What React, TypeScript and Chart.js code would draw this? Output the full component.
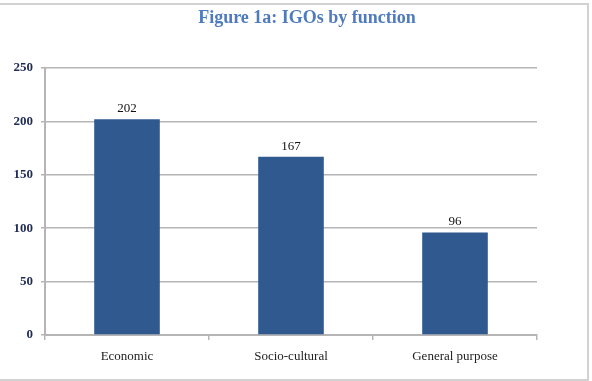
import React, { useEffect, useRef } from "react";
import { Chart, registerables } from "chart.js";

Chart.register(...registerables);

const categories = ["Economic", "Socio-cultural", "General purpose"];
const values = [202, 167, 96];
const yTicks = [0, 50, 100, 150, 200, 250];
const titleText = "Figure 1a: IGOs by function";

const valueLabels = {
  id: "valueLabels",
  afterDatasetsDraw(chart: any) {
    const ctx = chart.ctx;
    const meta = chart.getDatasetMeta(0);
    ctx.save();
    ctx.font = "13px 'Liberation Serif', serif";
    ctx.fillStyle = "#111";
    ctx.textAlign = "center";
    ctx.textBaseline = "bottom";
    meta.data.forEach((bar: any, i: number) => {
      ctx.fillText(String(values[i]), bar.x, bar.y - 4);
    });
    ctx.restore();
  },
};

const customTitle = {
  id: "customTitle",
  afterDraw(chart: any) {
    const ctx = chart.ctx;
    ctx.save();
    ctx.font = "bold 18px 'Liberation Serif', serif";
    ctx.fillStyle = "#4F7BBE";
    ctx.textAlign = "center";
    ctx.textBaseline = "middle";
    ctx.fillText(titleText, 307, 18);
    ctx.restore();
  },
};

export default function App() {
  const ref = useRef<HTMLCanvasElement>(null);
  useEffect(() => {
    document.body.style.margin = "0";
    const chart = new Chart(ref.current!, {
      type: "bar",
      data: {
        labels: categories,
        datasets: [
          {
            data: values,
            backgroundColor: "#30598F",
            borderColor: "#30598F",
            barPercentage: 0.4,
            categoryPercentage: 1,
          },
        ],
      },
      options: {
        animation: false,
        responsive: false,
        layout: { padding: { left: 0, right: 55, top: 68, bottom: 0 } },
        plugins: {
          legend: { display: false },
          tooltip: { enabled: false },
          title: { display: false },
        },
        scales: {
          x: {
            grid: {
              display: true,
              drawOnChartArea: false,
              drawTicks: true,
              tickLength: 5,
              color: "#b5b5b5",
              lineWidth: 1.5,
              offset: true,
            },
            border: { color: "#b5b5b5", width: 2 },
            ticks: {
              color: "#222",
              font: { family: "'Liberation Serif', serif", size: 13 },
              padding: 9,
            },
            afterFit(scale: any) {
              scale.height = 46;
            },
          },
          y: {
            min: 0,
            max: 250,
            afterBuildTicks(scale: any) {
              scale.ticks = yTicks.map((v) => ({ value: v }));
            },
            grid: {
              color: "#b5b5b5",
              lineWidth: 1.5,
              tickLength: 4,
            },
            border: { color: "#b5b5b5", width: 2 },
            ticks: {
              color: "#1F2A55",
              font: { family: "'Liberation Serif', serif", size: 13, weight: "bold" },
              padding: 8,
            },
            afterFit(scale: any) {
              scale.width = 45;
            },
          },
        },
      },
      plugins: [valueLabels, customTitle],
    });
    return () => chart.destroy();
  }, []);
  return (
    <div style={{ position: "relative", width: 592, height: 381, background: "#fff" }}>
      <canvas ref={ref} width={592} height={381} style={{ display: "block" }} />
      <div
        style={{
          position: "absolute",
          left: -3,
          top: 3,
          width: 588,
          height: 374,
          border: "2px solid #d2d2d2",
          pointerEvents: "none",
        }}
      />
    </div>
  );
}
